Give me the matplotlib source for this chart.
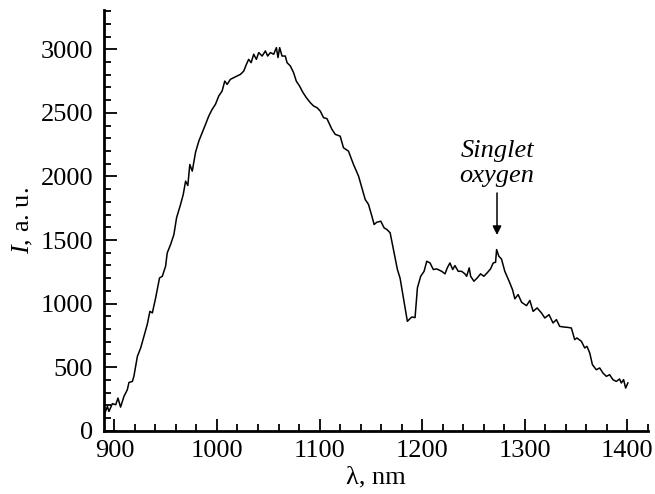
import numpy as np
import matplotlib
matplotlib.use('Agg')
import matplotlib.pyplot as plt
from matplotlib.ticker import MultipleLocator

plt.rcParams['font.family'] = 'Liberation Serif'
plt.rcParams['mathtext.fontset'] = 'custom'
plt.rcParams['mathtext.it'] = 'Liberation Serif:italic'
plt.rcParams['mathtext.rm'] = 'Liberation Serif'

# spectrum
wavelength = [890.7, 893.2, 894.7, 898, 901.3, 903.5, 906, 909.3, 912.6, 914.2,
              917.5, 919, 922.4, 925.6, 928.8, 932, 934.6, 937, 940.2, 944,
              946.7, 949.9, 951.5, 954.8, 958, 960.6, 964.5, 967.1, 969.4, 971.6,
              973.5, 975.9, 979.1, 982.3, 985.6, 988.8, 992, 995.3, 998.5, 1001.7,
              1005, 1007.6, 1009.9, 1013.1, 1016.3, 1019.6, 1022.9, 1026.1, 1028.7, 1030.9,
              1033.3, 1035.8, 1038.4, 1040.7, 1044, 1047.2, 1049.4, 1052, 1055.3, 1057.9,
              1059.5, 1061.1, 1063.4, 1066.6, 1068.3, 1071.5, 1074.7, 1077.3, 1080.5, 1083.9,
              1087.1, 1091, 1094.2, 1097.5, 1100.7, 1103.9, 1107.2, 1112.1, 1115.3, 1120.1,
              1123.3, 1128.2, 1133.1, 1138, 1141.2, 1144.5, 1147.7, 1151, 1153.2, 1155.8,
              1159.7, 1162.9, 1165.6, 1168.8, 1172, 1175.9, 1178.5, 1181.7, 1185.6, 1189.9,
              1193.1, 1195.4, 1198.6, 1201.9, 1204.5, 1207.7, 1210.9, 1214.2, 1219.1, 1222.3,
              1224.5, 1227.1, 1229.8, 1232, 1235.2, 1238.5, 1241.7, 1243.4, 1245.9, 1247.3,
              1250.5, 1253.7, 1257, 1260.2, 1263.4, 1266.7, 1269.3, 1271.6, 1272.6, 1274.8,
              1277.4, 1280.6, 1284.8, 1288.1, 1290.4, 1293.6, 1297, 1301.8, 1305, 1308.2,
              1312.1, 1316.3, 1319.6, 1323.7, 1327.6, 1330.9, 1334.1, 1338, 1342.2, 1345.5,
              1348.7, 1350.9, 1355.3, 1358.5, 1360.7, 1363.4, 1366, 1369.8, 1373.1, 1376.3,
              1379.6, 1382.8, 1386, 1389.3, 1392.5, 1394.2, 1396.4, 1398.4, 1400.6]
intensity = [139, 191, 152, 213, 205, 257, 186, 270, 323, 380,
             388, 428, 585, 651, 743, 835, 939, 927, 1045, 1202,
             1215, 1294, 1399, 1465, 1543, 1675, 1780, 1858, 1963, 1929,
             2094, 2042, 2190, 2278, 2344, 2409, 2475, 2528, 2567, 2632,
             2672, 2750, 2724, 2764, 2777, 2790, 2803, 2829, 2882, 2921,
             2895, 2961, 2921, 2974, 2947, 2987, 2947, 2974, 2961, 3013,
             2935, 3013, 2947, 2947, 2895, 2869, 2816, 2750, 2711, 2659,
             2620, 2580, 2554, 2541, 2514, 2462, 2455, 2370, 2331, 2317,
             2226, 2199, 2094, 2003, 1911, 1819, 1780, 1688, 1622, 1640,
             1648, 1596, 1583, 1557, 1425, 1268, 1200, 1045, 861, 895,
             890, 1124, 1215, 1254, 1333, 1320, 1268, 1273, 1254, 1234,
             1281, 1320, 1268, 1299, 1254, 1254, 1234, 1215, 1281, 1215,
             1176, 1202, 1234, 1215, 1242, 1273, 1320, 1325, 1425, 1372,
             1350, 1254, 1176, 1110, 1038, 1071, 1010, 984, 1025, 939,
             966, 927, 887, 913, 848, 874, 821, 816, 813, 808,
             717, 730, 703, 651, 664, 612, 520, 480, 494, 454,
             428, 441, 402, 388, 407, 376, 402, 336, 376]

fig = plt.figure(figsize=(6.55, 4.94), dpi=100)
ax = fig.add_axes([0.159, 0.128, 0.83, 0.852])

ax.plot(wavelength, intensity, color='black', lw=1.1)

ax.set_xlim(890, 1420)
ax.set_ylim(0, 3310)
ax.xaxis.set_major_locator(MultipleLocator(100))
ax.xaxis.set_minor_locator(MultipleLocator(20))
ax.yaxis.set_major_locator(MultipleLocator(500))
ax.yaxis.set_minor_locator(MultipleLocator(100))

for s in ['top', 'right']:
    ax.spines[s].set_visible(False)
for s in ['left', 'bottom']:
    ax.spines[s].set_linewidth(2)

ax.tick_params(which='both', direction='in', labelsize=19, width=1.3)
ax.tick_params(which='major', length=9)
ax.tick_params(which='minor', length=5)
ax.tick_params(axis='x', pad=7)
ax.tick_params(axis='y', pad=8)

ax.set_xlabel('λ, nm', fontsize=19, labelpad=3)
ax.set_ylabel(r'$I$, a. u.', fontsize=19, labelpad=4)

ax.annotate('', xy=(1273, 1540), xytext=(1273, 1870),
            arrowprops=dict(arrowstyle='-|>', color='black', lw=1.1,
                            mutation_scale=13, shrinkA=0, shrinkB=0))
ax.text(1273, 2200, 'Singlet', fontsize=19, style='italic',
        ha='center', va='center')
ax.text(1273, 2000, 'oxygen', fontsize=19, style='italic',
        ha='center', va='center')

fig.savefig('out.png', dpi=100)
